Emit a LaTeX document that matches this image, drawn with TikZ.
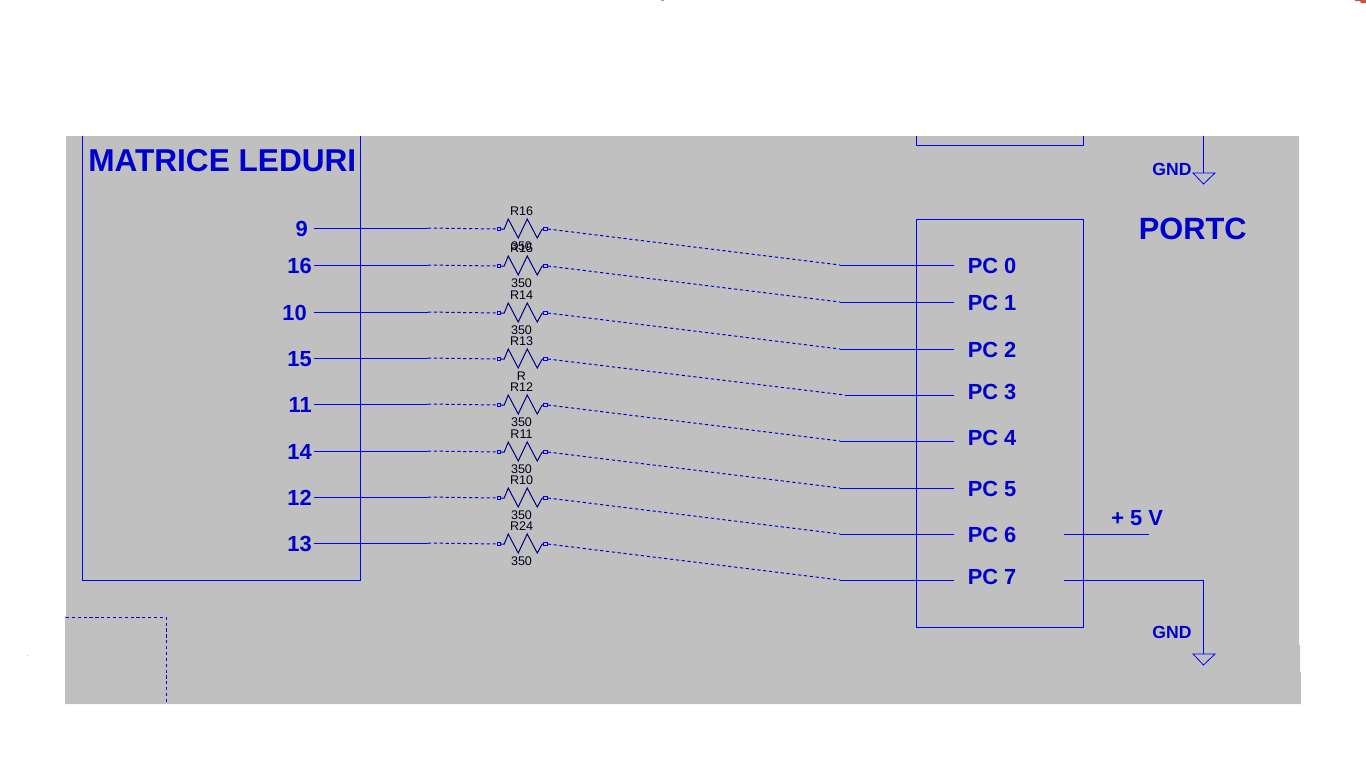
\documentclass[tikz,border=0pt]{standalone}
\usepackage{fontspec}
\setmainfont{Liberation Sans}
\definecolor{panel}{HTML}{C0C0C0}
\definecolor{wireblue}{HTML}{0000FF}
\definecolor{textblue}{HTML}{0000CC}
\definecolor{resnavy}{HTML}{000080}
\definecolor{reslabel}{HTML}{000018}
\definecolor{speck}{HTML}{C8503C}
\tikzset{
  wire/.style={draw=wireblue,line width=0.75pt},
  thinwire/.style={draw=wireblue,line width=0.6pt},
  dashwire/.style={draw=wireblue!85!black,line width=0.75pt,dash pattern=on 2.4pt off 2pt},
  bigtext/.style={font=\bfseries\fontsize{23.7}{26}\selectfont,text=textblue,inner sep=0pt},
  porttext/.style={font=\bfseries\fontsize{23.1}{26}\selectfont,text=textblue,inner sep=0pt},
  pintext/.style={font=\bfseries\fontsize{16.4}{18}\selectfont,text=textblue,inner sep=0pt},
  gndtext/.style={font=\bfseries\fontsize{13.2}{15}\selectfont,text=textblue,inner sep=0pt},
  restext/.style={font=\fontsize{9.4}{10}\selectfont,text=reslabel,inner sep=0pt},
  termbox/.style={draw=wireblue,line width=0.75pt,fill=none,minimum width=2.6pt,minimum height=2.6pt,inner sep=0pt,rectangle},
  zigzag/.style={draw=resnavy,line width=0.75pt,line join=miter}
}
\begin{document}
\begin{tikzpicture}[x=0.75pt,y=-0.75pt]
\useasboundingbox (0,0) rectangle (1366,768);
% grey panel
\fill[panel] (66,136) -- (1299,136) -- (1299,645) -- (1300,645) -- (1300,672) -- (1301,672) -- (1301,704) -- (65,704) -- (65,616) -- (66,616) -- cycle;
% specks at the page edges
\fill[speck] (1355,0) -- (1366,0) -- (1366,3) -- (1361,3) -- (1360,1) -- (1355,1) -- cycle;
\fill[speck!70] (661,0) rectangle (664,1);
\fill[panel] (27,655) rectangle (28,656);
% boxes
\draw[wire] (82,136) -- (82,580) -- (360,580) -- (360,136);
\draw[wire] (916,136) -- (916,145) -- (1083,145) -- (1083,136);
\node[draw=wireblue,line width=0.75pt,minimum width=125.25pt,minimum height=306pt,inner sep=0pt,anchor=north west] (portbox) at (916,219) {};
% lower-left dashed corner
\coordinate (dashA) at (66,617);
\coordinate (dashB) at (166,617);
\coordinate (dashC) at (166,704);
\draw[dashwire] (dashA) -- (dashB) -- (dashC);
% titles
\node[bigtext,anchor=west] (title) at (88,160.5) {MATRICE LEDURI};
\node[porttext,anchor=west] (portc) at (1138.5,229) {PORTC};
% rows
\foreach \i/\y/\pn/\px/\rn/\rv/\wy/\pcy/\stub/\pcn in {
  1/228/9/308/R16/350/265/266/840/PC 0,
  2/265/16/312/R15/350/302/303/840/PC 1,
  3/312/10/307/R14/350/349/350/840/PC 2,
  4/358/15/312/R13/R/395/392/845/PC 3,
  5/404/11/312/R12/350/441/438/840/PC 4,
  6/451/14/312/R11/350/488/489/840/PC 5,
  7/497/12/312/R10/350/534/535/840/PC 6,
  8/543/13/312/R24/350/580/577/840/PC 7}{
  \node[pintext,anchor=east] (pin\i) at (\px,\y+1) {\pn};
  \node[termbox] (ta\i) at (499,\y+1) {};
  \node[termbox] (tb\i) at (545.5,\y+1) {};
  \coordinate (ls\i) at (314,\y);
  \coordinate (lm\i) at (428,\y);
  \coordinate (rm\i) at (\stub,\wy);
  \coordinate (re\i) at (954,\wy);
  \draw[wire] (ls\i) -- (lm\i);
  \draw[dashwire] (lm\i) -- (ta\i.west);
  \draw[zigzag] (ta\i.east) -- ++(3,0) -- ++(4,-10) -- ++(10,19) -- ++(9,-19) -- ++(10,19) -- ++(5,-9) -- (tb\i.west);
  \draw[dashwire] (tb\i.east) -- (rm\i);
  \draw[wire] (rm\i) -- (re\i);
  \node[restext] (rl\i) at (521.5,\y-17) {\rn};
  \node[restext] (rv\i) at (521.5,\y+18) {\rv};
  \node[pintext,anchor=west] (pc\i) at (967.5,\pcy) {\pcn};
}
% +5 V
\coordinate (vsA) at (1064,534);
\coordinate (vsB) at (1149,534);
\draw[wire] (vsA) -- (vsB);
\node[pintext,anchor=west] (vs) at (1111,518) {+ 5 V};
% GND lower
\coordinate (gaA) at (1064,580);
\coordinate (gaB) at (1203.5,580);
\coordinate (gaC) at (1203.5,654);
\draw[wire] (gaA) -- (gaB) -- (gaC);
\draw[thinwire] (1193,654) -- (1215,654) -- (1203.5,665) -- cycle;
\node[gndtext] (gnda) at (1172,632) {GND};
% GND upper
\coordinate (gbA) at (1203.5,136);
\coordinate (gbB) at (1203.5,173);
\draw[wire] (gbA) -- (gbB);
\draw[thinwire] (1193,173) -- (1215,173) -- (1203.5,184) -- cycle;
\node[gndtext] (gndb) at (1172,169) {GND};
\end{tikzpicture}
\end{document}
